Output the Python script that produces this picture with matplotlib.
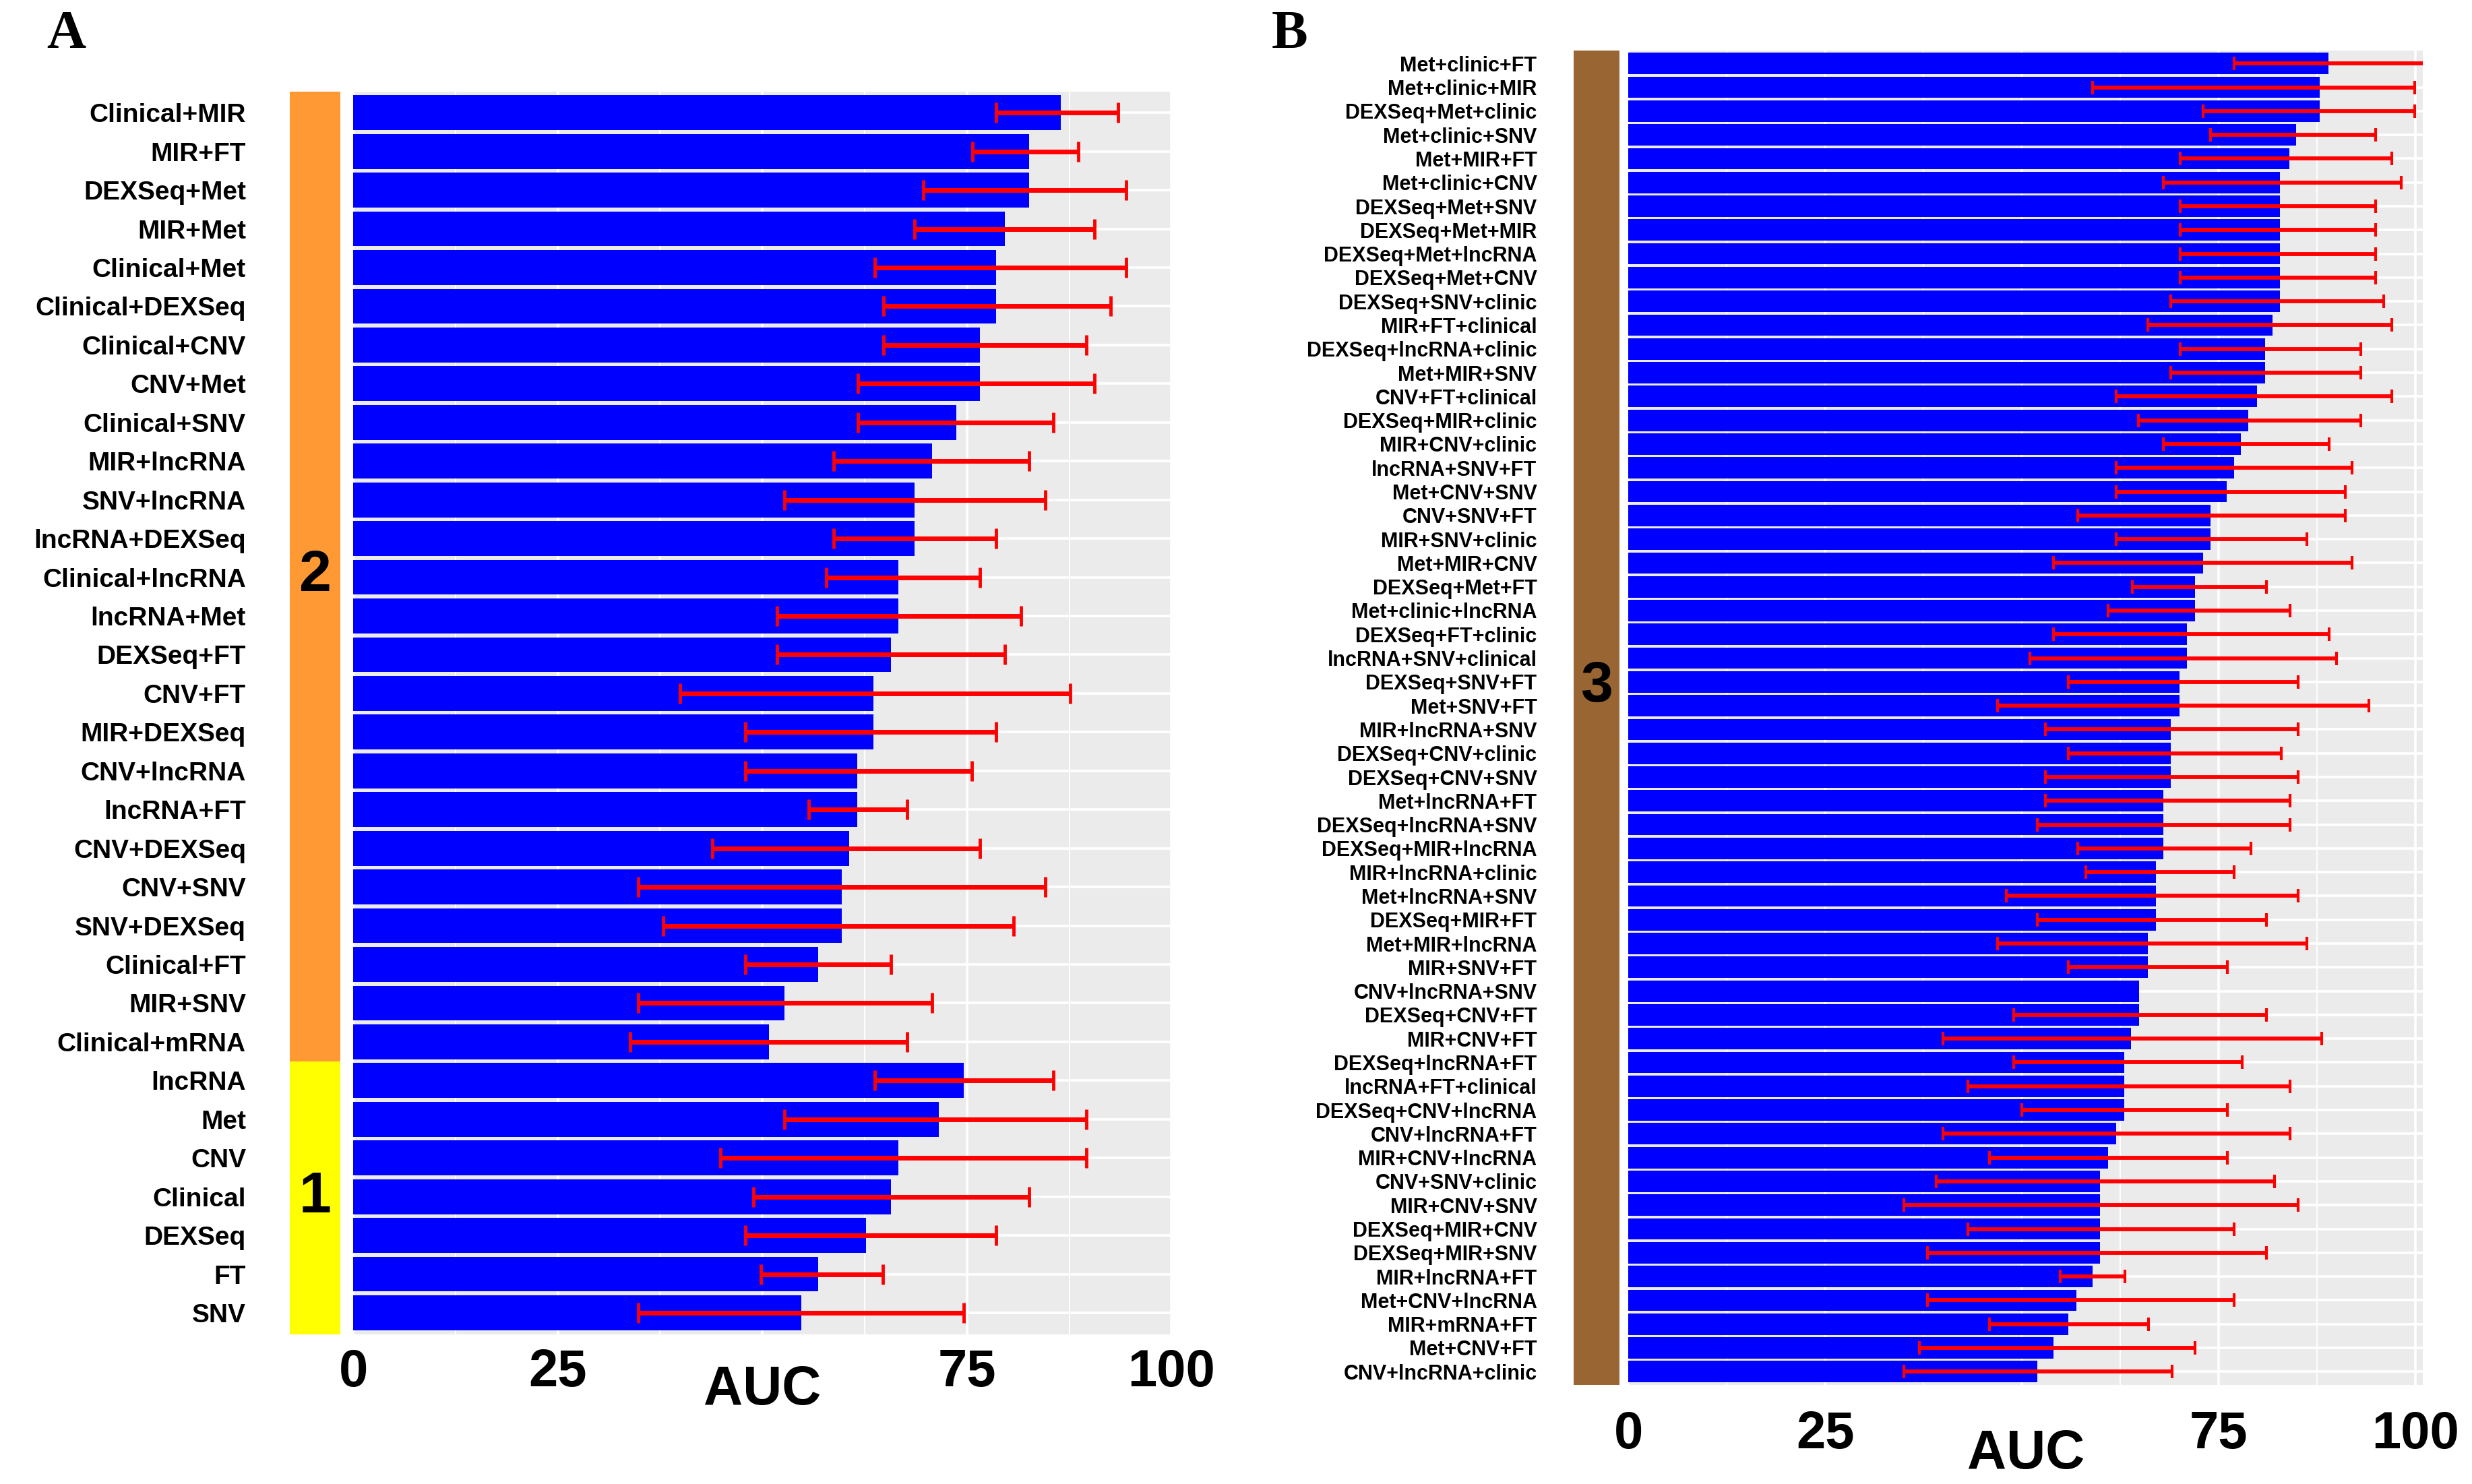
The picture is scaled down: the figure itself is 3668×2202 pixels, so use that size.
import numpy as np
import matplotlib
matplotlib.use("Agg")
import matplotlib.pyplot as plt

plt.rcParams['font.family'] = ['Liberation Sans', 'DejaVu Sans']

# Panel A: single data types and pairs
labels_a = ["Clinical+MIR", "MIR+FT", "DEXSeq+Met", "MIR+Met", "Clinical+Met",
            "Clinical+DEXSeq", "Clinical+CNV", "CNV+Met", "Clinical+SNV", "MIR+lncRNA",
            "SNV+lncRNA", "lncRNA+DEXSeq", "Clinical+lncRNA", "lncRNA+Met", "DEXSeq+FT",
            "CNV+FT", "MIR+DEXSeq", "CNV+lncRNA", "lncRNA+FT", "CNV+DEXSeq",
            "CNV+SNV", "SNV+DEXSeq", "Clinical+FT", "MIR+SNV", "Clinical+mRNA",
            "lncRNA", "Met", "CNV", "Clinical", "DEXSeq", "FT", "SNV"]
auc_a = [86.5, 82.6, 82.6, 79.6, 78.6, 78.6, 76.6, 76.6, 73.7, 70.7,
         68.6, 68.6, 66.6, 66.6, 65.7, 63.6, 63.6, 61.6, 61.6, 60.6,
         59.7, 59.7, 56.8, 52.7, 50.8,
         74.6, 71.6, 66.6, 65.7, 62.7, 56.8, 54.8]
low_a = [78.6, 75.7, 69.7, 68.6, 63.7, 64.8, 64.8, 61.7, 61.7, 58.7,
         52.7, 58.7, 57.8, 51.8, 51.8, 39.9, 47.9, 47.9, 55.7, 43.9,
         34.8, 37.9, 47.9, 34.8, 33.8,
         63.7, 52.7, 44.9, 48.9, 47.9, 49.8, 34.8]
high_a = [93.5, 88.6, 94.5, 90.6, 94.5, 92.6, 89.6, 90.6, 85.6, 82.6,
          84.6, 78.6, 76.6, 81.6, 79.6, 87.6, 78.6, 75.6, 67.7, 76.6,
          84.6, 80.7, 65.7, 70.7, 67.7,
          85.6, 89.6, 89.6, 82.6, 78.6, 64.7, 74.6]
groups_a = ["2", "1"]
group_sizes_a = [25, 7]
group_colors_a = ["#FF9933", "#FFFF00"]

# Panel B: triples
labels_b = ["Met+clinic+FT", "Met+clinic+MIR", "DEXSeq+Met+clinic", "Met+clinic+SNV",
            "Met+MIR+FT", "Met+clinic+CNV", "DEXSeq+Met+SNV", "DEXSeq+Met+MIR",
            "DEXSeq+Met+lncRNA", "DEXSeq+Met+CNV", "DEXSeq+SNV+clinic", "MIR+FT+clinical",
            "DEXSeq+lncRNA+clinic", "Met+MIR+SNV", "CNV+FT+clinical", "DEXSeq+MIR+clinic",
            "MIR+CNV+clinic", "lncRNA+SNV+FT", "Met+CNV+SNV", "CNV+SNV+FT",
            "MIR+SNV+clinic", "Met+MIR+CNV", "DEXSeq+Met+FT", "Met+clinic+lncRNA",
            "DEXSeq+FT+clinic", "lncRNA+SNV+clinical", "DEXSeq+SNV+FT", "Met+SNV+FT",
            "MIR+lncRNA+SNV", "DEXSeq+CNV+clinic", "DEXSeq+CNV+SNV", "Met+lncRNA+FT",
            "DEXSeq+lncRNA+SNV", "DEXSeq+MIR+lncRNA", "MIR+lncRNA+clinic", "Met+lncRNA+SNV",
            "DEXSeq+MIR+FT", "Met+MIR+lncRNA", "MIR+SNV+FT", "CNV+lncRNA+SNV",
            "DEXSeq+CNV+FT", "MIR+CNV+FT", "DEXSeq+lncRNA+FT", "lncRNA+FT+clinical",
            "DEXSeq+CNV+lncRNA", "CNV+lncRNA+FT", "MIR+CNV+lncRNA", "CNV+SNV+clinic",
            "MIR+CNV+SNV", "DEXSeq+MIR+CNV", "DEXSeq+MIR+SNV", "MIR+lncRNA+FT",
            "Met+CNV+lncRNA", "MIR+mRNA+FT", "Met+CNV+FT", "CNV+lncRNA+clinic"]
auc_b = [89.0, 87.9, 87.9, 84.9, 84.0, 82.8, 82.8, 82.8, 82.8, 82.8,
         82.8, 81.9, 80.9, 80.9, 79.9, 78.8, 77.8, 77.0, 76.0, 74.0,
         74.0, 73.0, 72.0, 72.0, 71.0, 71.0, 70.0, 70.0, 68.9, 68.9,
         68.9, 68.0, 68.0, 68.0, 67.0, 67.0, 67.0, 66.0, 66.0, 64.9,
         64.9, 63.9, 63.0, 63.0, 63.0, 62.0, 61.0, 59.9, 59.9, 59.9,
         59.9, 59.0, 56.9, 55.9, 54.0, 52.0]
low_b = [77.0, 59.0, 73.0, 74.0, 70.1, 68.0, 70.1, 70.1, 70.1, 70.1,
         68.9, 66.0, 70.1, 68.9, 62.0, 64.8, 68.0, 62.0, 62.0, 57.1,
         62.0, 54.0, 64.0, 61.0, 54.0, 51.0, 55.9, 46.9, 53.0, 55.9,
         53.0, 53.0, 52.0, 57.1, 58.1, 48.0, 52.0, 46.9, 55.9, np.nan,
         49.0, 40.0, 49.0, 43.1, 50.0, 40.0, 45.9, 39.1, 35.0, 43.1,
         38.0, 54.9, 38.0, 45.9, 37.0, 35.0]
high_b = [104.0, 99.9, 99.9, 95.0, 97.0, 98.2, 95.0, 95.0, 95.0, 95.0,
          96.0, 97.0, 93.1, 93.1, 97.0, 93.1, 89.1, 92.0, 91.1, 91.1,
          86.2, 92.0, 81.1, 84.1, 89.1, 90.0, 85.1, 94.1, 85.1, 83.0,
          85.1, 84.1, 84.1, 79.1, 77.0, 85.1, 81.1, 86.2, 76.1, np.nan,
          81.1, 88.1, 78.0, 84.1, 76.1, 84.1, 76.1, 82.1, 85.1, 77.0,
          81.1, 63.1, 77.0, 66.1, 72.0, 69.1]
groups_b = ["3"]
group_sizes_b = [56]
group_colors_b = ["#996633"]

x_ticks = [0, 25, 50, 75, 100]
x_ticklabels = ["0", "25", "", "75", "100"]


def draw_panel(fig, ax_rect, strip_rect, labels, auc, low, high, groups, sizes, colors,
               label_size, label_pad, cap, lw, xmax, tick_pad, auc_y, num_shift=0.0):
    n = len(labels)
    y = np.arange(n)
    auc = np.asarray(auc, float)
    low = np.asarray(low, float)
    high = np.asarray(high, float)
    ylim = (n - 0.45, -0.55)

    ax = fig.add_axes(ax_rect)
    ax.set_facecolor("#EBEBEB")
    ax.barh(y, auc, height=0.9, color="#0000FF", zorder=2)
    ok = ~np.isnan(low)
    ax.errorbar(auc[ok], y[ok], xerr=[auc[ok] - low[ok], high[ok] - auc[ok]],
                fmt="none", ecolor="#FF0000", elinewidth=lw, capsize=cap,
                capthick=lw * 0.7, zorder=3)
    ax.set_xlim(0, xmax)
    ax.set_ylim(*ylim)
    ax.set_xticks(x_ticks)
    ax.set_xticklabels(x_ticklabels, fontsize=56, fontweight="bold")
    ax.set_xticks([12.5, 37.5, 62.5, 87.5], minor=True)
    ax.set_yticks(y)
    ax.grid(which="major", color="white", lw=2.6)
    ax.grid(which="minor", axis="x", color="white", lw=1.4)
    ax.set_axisbelow(True)
    ax.tick_params(axis="x", which="both", length=0, pad=tick_pad)
    ax.tick_params(axis="y", length=0, labelleft=False)
    for s in ax.spines.values():
        s.set_visible(False)
    ax.text(0.5, auc_y, "AUC", transform=ax.transAxes, ha="center", va="center",
            fontsize=58, fontweight="bold")

    # coloured group strip with the row labels on its left
    st = fig.add_axes(strip_rect)
    st.set_xlim(0, 1)
    st.set_ylim(*ylim)
    start = 0
    for g, s, c in zip(groups, sizes, colors):
        top = start - 0.5 if start > 0 else ylim[1]
        bot = start + s - 0.5 if start + s < n else ylim[0]
        st.axhspan(top, bot, color=c, lw=0)
        st.text(0.5, (top + bot) / 2 + num_shift, g, transform=st.get_yaxis_transform(),
                ha="center", va="center", fontsize=62, fontweight="bold")
        start += s
    st.set_xticks([])
    st.set_yticks(y)
    st.set_yticklabels(labels, fontsize=label_size, fontweight="bold")
    st.tick_params(axis="y", length=0, pad=label_pad)
    for s in st.spines.values():
        s.set_visible(False)
    return ax


fig = plt.figure(figsize=(36.68, 22.02), dpi=100)

draw_panel(fig, [0.1429, 0.1010, 0.3310, 0.8374], [0.1173, 0.1010, 0.0204, 0.8374],
           labels_a, auc_a, low_a, high_a, groups_a, group_sizes_a, group_colors_a,
           label_size=28, label_pad=47, cap=11, lw=5.0, xmax=100, tick_pad=15,
           auc_y=-0.045)
draw_panel(fig, [0.6588, 0.0669, 0.3214, 0.8991], [0.6365, 0.0669, 0.0185, 0.8991],
           labels_b, auc_b, low_b, high_b, groups_b, group_sizes_b, group_colors_b,
           label_size=22, label_pad=39, cap=7, lw=4.2, xmax=101, tick_pad=27,
           auc_y=-0.052, num_shift=-1.3)

fig.text(0.0268, 0.9766, "A", ha="center", va="center", fontsize=58,
         fontweight="bold", family="Liberation Serif")
fig.text(0.5217, 0.9766, "B", ha="center", va="center", fontsize=58,
         fontweight="bold", family="Liberation Serif")

fig.savefig("out.png", dpi=100, facecolor="white")
